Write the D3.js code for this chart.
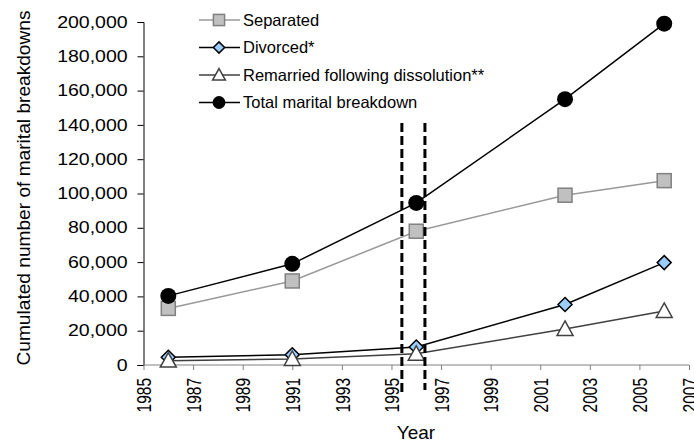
<!DOCTYPE html>
<html><head><meta charset="utf-8">
<script src="https://cdn.jsdelivr.net/npm/d3@7"></script>
<style>body{margin:0;background:#fff}svg{font-family:"Liberation Sans",Arial,sans-serif}</style>
</head><body><svg id="c" width="694" height="444"></svg>
<script>
const years = [1986, 1991, 1996, 2002, 2006];
const separated = [33000, 49000, 78000, 99000, 107500];
const divorced = [4500, 6000, 10500, 35300, 59700];
const remarried = [2500, 3500, 6500, 21000, 31500];
const total = [40300, 59000, 94500, 155000, 199000];
const seriesNames = ["Separated", "Divorced*", "Remarried following dissolution**", "Total marital breakdown"];
const yTicks = [0,20000,40000,60000,80000,100000,120000,140000,160000,180000,200000];
const xTicks = [1985,1987,1989,1991,1993,1995,1997,1999,2001,2003,2005,2007];
const dashedYears = [1995.42, 1996.35];

const svg = d3.select("#c");
const x = d3.scaleLinear().domain([1985, 2007]).range([143.5, 689]);
const y = d3.scaleLinear().domain([0, 200000]).range([365, 22]);

// Y axis
const ya = svg.append("g").attr("transform","translate(143.5,0)")
  .call(d3.axisLeft(y).tickValues(yTicks).tickSize(6).tickFormat(d3.format(",")));
ya.select(".domain").attr("stroke","#000");
ya.selectAll(".tick line").attr("stroke","#000");
ya.selectAll(".tick text").attr("font-size",16).attr("fill","#000").attr("font-family","Liberation Sans, Arial")
  .attr("x",-13).attr("transform","scale(1.22,1)");

// X axis
const xa = svg.append("g").attr("transform","translate(0,365)")
  .call(d3.axisBottom(x).tickValues(xTicks).tickSize(5).tickFormat(d3.format("d")));
xa.select(".domain").attr("stroke","#808080").attr("d","M143.5,0H689");
xa.selectAll(".tick line").attr("stroke","#808080");
xa.selectAll(".tick text").attr("font-size",15.5).attr("fill","#000").attr("font-family","Liberation Sans, Arial")
  .attr("transform","translate(0,13) scale(1.28,1) rotate(-90)").attr("text-anchor","end").attr("x",0).attr("y",0).attr("dy","0.36em");

// Axis titles
svg.append("text").attr("transform","translate(29.5,188) rotate(-90)").attr("text-anchor","middle")
  .attr("font-size",18).attr("textLength",355).attr("lengthAdjust","spacingAndGlyphs")
  .text("Cumulated number of marital breakdowns");
svg.append("text").attr("x",416).attr("y",439).attr("text-anchor","middle").attr("font-size",19).text("Year");

const series = [
  {name: seriesNames[0], vals: separated, line:"#999999", lw:1.5, shape:"square"},
  {name: seriesNames[1], vals: divorced, line:"#000000", lw:1.5, shape:"diamond"},
  {name: seriesNames[2], vals: remarried, line:"#404040", lw:1.5, shape:"triangle"},
  {name: seriesNames[3], vals: total, line:"#000000", lw:1.5, shape:"circle"}
];
const lineGen = d3.line().x((d,i)=>x(years[i])).y(d=>y(d));

function drawMarker(g, shape, cx, cy, big){
  const s = big ? 1 : 0.8;
  if (shape==="square") {
    g.append("rect").attr("x",cx-7*s).attr("y",cy-7*s).attr("width",14*s).attr("height",14*s)
      .attr("fill","#c0c0c0").attr("stroke","#808080").attr("stroke-width",1.5);
  } else if (shape==="diamond") {
    const r=7*s;
    g.append("path").attr("d",`M${cx},${cy-r}L${cx+r},${cy}L${cx},${cy+r}L${cx-r},${cy}Z`)
      .attr("fill","#99ccff").attr("stroke","#000").attr("stroke-width",1.5);
  } else if (shape==="triangle") {
    const r=8*s;
    g.append("path").attr("d",`M${cx},${cy-r}L${cx+r},${cy+r*0.8}L${cx-r},${cy+r*0.8}Z`)
      .attr("fill","#fff").attr("stroke","#404040").attr("stroke-width",1.5);
  } else {
    g.append("circle").attr("cx",cx).attr("cy",cy).attr("r",8*s).attr("fill","#000");
  }
}

const plot = svg.append("g");
series.forEach(s=>{
  plot.append("path").attr("d",lineGen(s.vals)).attr("fill","none").attr("stroke",s.line).attr("stroke-width",s.lw);
});
series.forEach(s=>{
  s.vals.forEach((v,i)=>drawMarker(plot, s.shape, x(years[i]), y(v), true));
});

// dashed vertical lines
dashedYears.forEach((yr,i)=>{
  svg.append("line").attr("x1",x(yr)).attr("x2",x(yr)).attr("y1",123).attr("y2", i===0?395:390)
    .attr("stroke","#000").attr("stroke-width",3).attr("stroke-dasharray","9,4");
});

// Legend
const lg = svg.append("g");
series.forEach((s,i)=>{
  const cy = 20 + i*27.5;
  lg.append("line").attr("x1",199).attr("x2",240).attr("y1",cy).attr("y2",cy).attr("stroke",s.line).attr("stroke-width",1.5);
  drawMarker(lg, s.shape, 219, cy, false);
  lg.append("text").attr("x",243).attr("y",cy).attr("dy","0.35em").attr("font-size",16.5).text(s.name);
});
</script></body></html>
